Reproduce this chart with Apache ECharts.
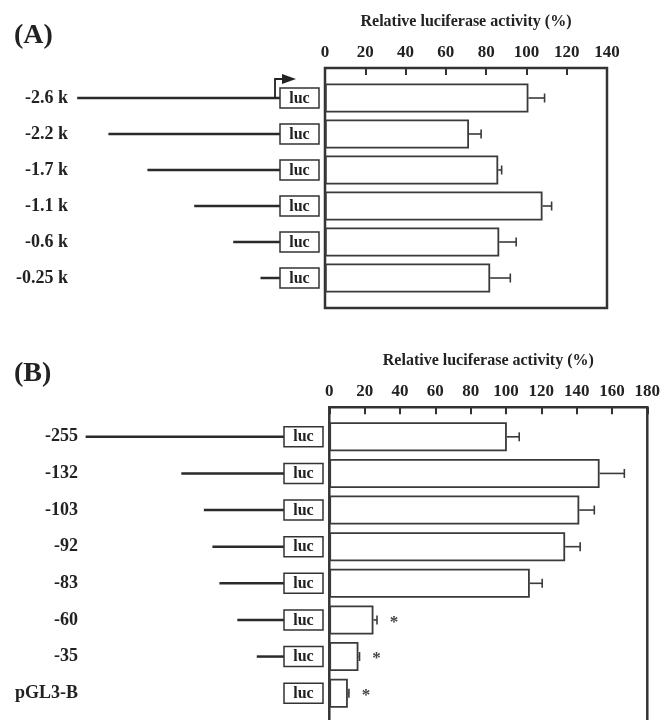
<!DOCTYPE html>
<html><head><meta charset="utf-8">
<script src="https://cdn.jsdelivr.net/npm/echarts@6/dist/echarts.min.js"></script>
<style>html,body{margin:0;padding:0;background:#fff}#c{width:661px;height:720px}</style>
</head><body><div id="c"></div>
<script>
// ---- Panel A data ----
const catsA = ['-2.6 k', '-2.2 k', '-1.7 k', '-1.1 k', '-0.6 k', '-0.25 k'];
const lenA = [2.6, 2.2, 1.7, 1.1, 0.6, 0.25];          // promoter length (kb)
const valA = [101, 71.5, 86, 108, 86.5, 82];            // relative luciferase activity (%)
const errA = [8, 6, 1.7, 4.5, 8.4, 10];
const ticksA = [0, 20, 40, 60, 80, 100, 120, 140];
// ---- Panel B data ----
const catsB = ['-255', '-132', '-103', '-92', '-83', '-60', '-35', 'pGL3-B'];
const lenB = [255, 132, 103, 92, 83, 60, 35, 0];        // promoter length (bp)
const valB = [100.5, 153, 141.5, 133.5, 113.5, 25, 16.5, 10.5];
const errB = [7, 14, 8.5, 8.5, 7, 2, 0.6, 0.6];
const sigB = ['', '', '', '', '', '*', '*', '*'];
const ticksB = [0, 20, 40, 60, 80, 100, 120, 140, 160, 180];
const axisTitle = 'Relative luciferase activity (%)';

const FONT = "'Liberation Serif','Times New Roman',serif";
const INK = '#222';

const chart = echarts.init(document.getElementById('c'), null, {renderer: 'canvas'});

function frameX(gi, ticks) {
  return {
    gridIndex: gi, type: 'value', position: 'top',
    min: ticks[0], max: ticks[ticks.length - 1], interval: ticks[1] - ticks[0],
    axisLine: {show: false, onZero: false},
    axisTick: {show: true, inside: true, length: 7, lineStyle: {color: '#333', width: 2}},
    splitLine: {show: false},
    axisLabel: {show: true, margin: 7, color: INK, fontFamily: FONT, fontWeight: 'bold', fontSize: 17},
    name: axisTitle, nameLocation: 'middle', nameGap: 38.5,
    nameTextStyle: {color: INK, fontFamily: FONT, fontWeight: 'bold', fontSize: 16}
  };
}
function hiddenX(gi, min, max, inverse) {
  return {gridIndex: gi, type: 'value', min: min, max: max, inverse: !!inverse, show: false,
          splitLine: {show: false}};
}
function catY(gi, cats, showLabels, offset) {
  return {
    gridIndex: gi, type: 'category', data: cats, inverse: true,
    axisLine: {show: false}, axisTick: {show: false}, splitLine: {show: false},
    offset: offset || 0,
    axisLabel: {show: !!showLabels, margin: 8, color: INK, fontFamily: FONT, fontWeight: 'bold', fontSize: 18}
  };
}

function errRender(marks) {
  return function (params, api) {
    const v = api.value(0), idx = api.value(1), e = api.value(2);
    const p0 = api.coord([v, idx]);
    const p1 = api.coord([v + e, idx]);
    const st = {stroke: '#3a3a3a', lineWidth: 1.6};
    const children = [
      {type: 'line', shape: {x1: p0[0], y1: p0[1], x2: p1[0], y2: p1[1]}, style: st},
      {type: 'line', shape: {x1: p1[0], y1: p1[1] - 4.5, x2: p1[0], y2: p1[1] + 4.5}, style: st}
    ];
    const m = marks ? marks[params.dataIndex] : '';
    if (m) {
      children.push({type: 'text', x: p1[0] + 17, y: p1[1] + 2.5,
        style: {text: m, fill: '#444', font: 'bold 17px ' + FONT, align: 'center', verticalAlign: 'middle'}});
    }
    return {type: 'group', children: children};
  };
}

function lucRender(withArrow) {
  return function (params, api) {
    const idx = api.value(1);
    const p = api.coord([0, idx]);
    const children = [
      {type: 'rect', shape: {x: p[0], y: p[1] - 10, width: 39, height: 20},
       style: {fill: '#fff', stroke: '#333', lineWidth: 1.5}},
      {type: 'text', x: p[0] + 19.5, y: p[1] + 0.5,
       style: {text: 'luc', fill: INK, font: 'bold 16px ' + FONT, align: 'center', verticalAlign: 'middle'}}
    ];
    if (withArrow && params.dataIndex === 0) {
      children.push({type: 'polyline', shape: {points: [[p[0] - 5, p[1]], [p[0] - 5, p[1] - 19], [p[0] + 3, p[1] - 19]]},
        style: {stroke: '#222', lineWidth: 1.8, fill: null}});
      children.push({type: 'polygon', shape: {points: [[p[0] + 2, p[1] - 24], [p[0] + 16, p[1] - 19], [p[0] + 2, p[1] - 14]]},
        style: {fill: '#222'}});
    }
    return {type: 'group', children: children};
  };
}

const G = {outerBoundsMode: 'none', containLabel: false};
const option = {
  backgroundColor: '#fff',
  animation: false,
  title: [
    {text: '(A)', left: 9, top: 17, textStyle: {fontFamily: FONT, fontWeight: 'bold', fontSize: 28, color: INK}},
    {text: '(B)', left: 9, top: 355, textStyle: {fontFamily: FONT, fontWeight: 'bold', fontSize: 28, color: INK}}
  ],
  grid: [
    Object.assign({left: 325, top: 68, width: 282, height: 240, show: true, borderColor: '#333', borderWidth: 2.5, backgroundColor: 'transparent'}, G),
    Object.assign({left: 325, top: 80, width: 282, height: 216}, G),
    Object.assign({left: 46, top: 80, width: 234, height: 216}, G),
    Object.assign({left: 329.3, top: 407.3, width: 318, height: 330, show: true, borderColor: '#333', borderWidth: 2.5, backgroundColor: 'transparent'}, G),
    Object.assign({left: 329.3, top: 418.5, width: 318, height: 293}, G),
    Object.assign({left: 50.6, top: 418.5, width: 233.4, height: 293}, G)
  ],
  xAxis: [
    frameX(0, ticksA),
    hiddenX(1, ticksA[0], ticksA[ticksA.length - 1]),
    hiddenX(2, 0, 3, true),
    frameX(3, ticksB),
    hiddenX(4, ticksB[0], ticksB[ticksB.length - 1]),
    hiddenX(5, 0, 300, true)
  ],
  yAxis: [
    {gridIndex: 0, type: 'value', min: 0, max: 1, show: false, splitLine: {show: false}},
    catY(1, catsA, false),
    catY(2, catsA, true, -30),
    {gridIndex: 3, type: 'value', min: 0, max: 1, show: false, splitLine: {show: false}},
    catY(4, catsB, false),
    catY(5, catsB, true, -35.5)
  ],
  series: [
    // Panel A
    {type: 'bar', xAxisIndex: 1, yAxisIndex: 1, data: valA, barWidth: 29,
     itemStyle: {color: '#fff', borderColor: '#3a3a3a', borderWidth: 1.8}, silent: true},
    {type: 'custom', xAxisIndex: 1, yAxisIndex: 1, renderItem: errRender(null),
     data: valA.map((v, i) => [v, i, errA[i]]), encode: {x: 0, y: 1}, silent: true},
    {type: 'bar', xAxisIndex: 2, yAxisIndex: 2, data: lenA, barWidth: 2.5,
     itemStyle: {color: '#2a2a2a'}, silent: true},
    {type: 'custom', xAxisIndex: 2, yAxisIndex: 2, renderItem: lucRender(true),
     data: catsA.map((c, i) => [0, i]), encode: {x: 0, y: 1}, silent: true, z: 5},
    // Panel B
    {type: 'bar', xAxisIndex: 4, yAxisIndex: 4, data: valB, barWidth: 29,
     itemStyle: {color: '#fff', borderColor: '#3a3a3a', borderWidth: 1.8}, silent: true},
    {type: 'custom', xAxisIndex: 4, yAxisIndex: 4, renderItem: errRender(sigB),
     data: valB.map((v, i) => [v, i, errB[i]]), encode: {x: 0, y: 1}, silent: true},
    {type: 'bar', xAxisIndex: 5, yAxisIndex: 5, data: lenB, barWidth: 2.5,
     itemStyle: {color: '#2a2a2a'}, silent: true},
    {type: 'custom', xAxisIndex: 5, yAxisIndex: 5, renderItem: lucRender(false),
     data: catsB.map((c, i) => [0, i]), encode: {x: 0, y: 1}, silent: true, z: 5}
  ]
};
chart.setOption(option);
</script>
</body></html>
